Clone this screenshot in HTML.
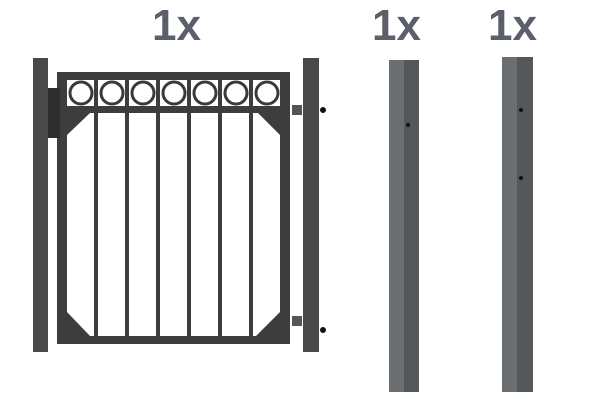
<!DOCTYPE html>
<html><head><meta charset="utf-8"><style>
body{margin:0;background:#fff;width:612px;height:400px;overflow:hidden}
.t{font-family:"Liberation Sans",sans-serif;font-weight:bold;font-size:44px;fill:#5a5f69}
</style></head><body>
<svg width="612" height="400">
<text class="t" x="152" y="40">1x</text>
<text class="t" x="372" y="40">1x</text>
<text class="t" x="488" y="40">1x</text>
<g fill="#3d3d3d">
<rect x="33" y="58" width="15" height="294" fill="#4a4a4a"/>
<rect x="303" y="58" width="16" height="294" fill="#4a4a4a"/>
<rect x="57" y="72" width="233" height="8"/>
<rect x="57" y="106" width="233" height="7"/>
<rect x="57" y="72" width="10" height="272"/>
<rect x="280" y="72" width="10" height="272"/>
<rect x="57" y="336" width="233" height="8"/>
<g fill="none" stroke="#3a3a3a" stroke-width="3">
<circle cx="81" cy="93" r="11"/><circle cx="112" cy="93" r="11"/><circle cx="143" cy="93" r="11"/><circle cx="174" cy="93" r="11"/><circle cx="205" cy="93" r="11"/><circle cx="236" cy="93" r="11"/><circle cx="267" cy="93" r="11"/>
</g>
<rect x="94" y="80" width="4" height="260"/><rect x="125" y="80" width="4" height="260"/><rect x="156" y="80" width="4" height="260"/><rect x="187" y="80" width="4" height="260"/><rect x="218" y="80" width="4" height="260"/><rect x="249" y="80" width="4" height="260"/>
<polygon points="67,113 90,113 67,135"/><polygon points="280,113 258,113 280,135"/>
<polygon points="67,312 90,336 67,336"/><polygon points="280,312 256,336 280,336"/>
<rect x="48" y="88" width="12" height="50" fill="#2e2e2e"/>
<rect x="292" y="105" width="10" height="10" fill="#555"/>
<rect x="292" y="316" width="10" height="10" fill="#555"/>
<circle cx="323" cy="110" r="3" fill="#111"/><circle cx="323" cy="330" r="3" fill="#111"/>
</g>
<g>
<rect x="389" y="60" width="16" height="332" fill="#6c6f71"/>
<rect x="404" y="60" width="15" height="332" fill="#55585a"/>
<circle cx="408" cy="125" r="2" fill="#111"/>
</g>
<g>
<rect x="502" y="57" width="16" height="335" fill="#6c6f71"/>
<rect x="517" y="57" width="16" height="335" fill="#55585a"/>
<circle cx="521" cy="110" r="2" fill="#111"/><circle cx="521" cy="178" r="2" fill="#111"/>
</g>
</svg>
</body></html>
